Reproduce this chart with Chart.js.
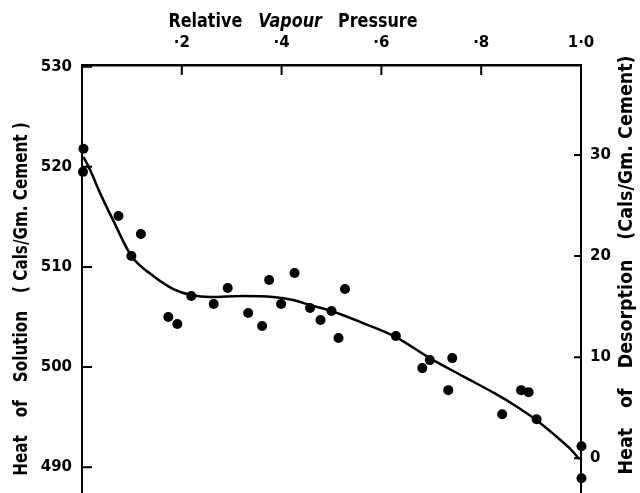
<!DOCTYPE html>
<html><head><meta charset="utf-8">
<script src="https://cdn.jsdelivr.net/npm/chart.js@4/dist/chart.umd.min.js"></script>
<style>html,body{margin:0;padding:0;background:#fff}</style>
</head><body>
<canvas id="c" width="640" height="493"></canvas>
<script>
// Measured points (relative vapour pressure, heat of solution)
const pointX = [0.003,0.002,0.073,0.099,0.118,0.173,0.191,0.219,0.264,0.292,0.333,0.361,0.375,0.399,0.426,0.457,0.478,0.500,0.514,0.527,0.629,0.682,0.697,0.734,0.742,0.842,0.880,0.895,0.911,1.001,1.001];
const pointY = [521.8,519.5,515.1,511.1,513.3,505.0,504.3,507.1,506.3,507.9,505.4,504.1,508.7,506.3,509.4,505.9,504.7,505.6,502.9,507.8,503.1,499.9,500.7,497.7,500.9,495.3,497.7,497.5,494.8,492.1,488.9];
// Smooth fitted curve
const curveX = [0.003,0.017,0.037,0.063,0.099,0.143,0.183,0.219,0.257,0.323,0.383,0.423,0.457,0.500,0.563,0.629,0.697,0.763,0.830,0.870,0.911,0.950,0.977,0.997];
const curveY = [521.0,519.6,517.3,514.6,511.1,509.1,507.8,507.2,507.0,507.1,507.0,506.7,506.2,505.6,504.4,503.0,500.9,499.1,497.3,496.1,494.7,493.1,491.9,490.8];
// Ticks
const xTicks = [0.2,0.4,0.6,0.8,1.0];
const xTickLabels = ['·2','·4','·6','·8','1·0'];
const leftTicks = [490,500,510,520,530];
const rightTicks = [0,10,20,30];
// Titles
const topTitle = [['Relative',false],['Vapour',true],['Pressure',false]];
const leftTitle = [['Heat',false],['of',false],['Solution',false],['( Cals/Gm. Cement )',false]];
const rightTitle = [['Heat',false],['of',false],['Desorption',false],['(Cals/Gm. Cement)',false]];

const FONT = '"DejaVu Sans", sans-serif';

function drawWords(ctx, words, size, gap, squeeze, cx, cy, angle){
  ctx.save();
  ctx.translate(cx, cy);
  ctx.rotate(angle);
  ctx.scale(squeeze, 1);
  ctx.textBaseline = 'middle';
  ctx.textAlign = 'left';
  const fonts = words.map(w => (w[1] ? 'italic ' : '') + 'bold ' + size + 'px ' + FONT);
  const widths = words.map((w,i) => { ctx.font = fonts[i]; return ctx.measureText(w[0]).width; });
  const g = gap / squeeze;
  const total = widths.reduce((a,b)=>a+b,0) + g*(words.length-1);
  let x = -total/2;
  words.forEach((w,i) => { ctx.font = fonts[i]; ctx.fillText(w[0], x, 0); x += widths[i] + g; });
  ctx.restore();
}

const decor = {
  id: 'decor',
  afterDraw(chart){
    const ctx = chart.ctx, a = chart.chartArea;
    const sx = chart.scales.x, sy = chart.scales.y, sy2 = chart.scales.y2;
    ctx.save();
    ctx.strokeStyle = '#000';
    ctx.lineWidth = 2;
    ctx.beginPath();
    sx.ticks.forEach(t => { const p = sx.getPixelForValue(t.value); ctx.moveTo(p, a.top); ctx.lineTo(p, a.top + 10); });
    sy.ticks.forEach(t => { const p = sy.getPixelForValue(t.value); ctx.moveTo(a.left, p); ctx.lineTo(a.left + 10, p); });
    sy2.ticks.forEach(t => { const p = sy2.getPixelForValue(t.value); ctx.moveTo(a.right, p); ctx.lineTo(a.right - 7, p); });
    ctx.stroke();
    ctx.fillStyle = '#000';
    drawWords(ctx, topTitle, 20, 16, 0.8, 293, 22, 0);
    drawWords(ctx, leftTitle, 19, 18, 0.8, 22, 299, -Math.PI/2);
    drawWords(ctx, rightTitle, 19, 20, 0.92, 627, 265, -Math.PI/2);
    ctx.restore();
  }
};

const tickFont = { family: FONT, size: 15, weight: 'bold' };
const noPad = s => { s.paddingTop = 0; s.paddingBottom = 0; s.paddingLeft = 0; s.paddingRight = 0; };

new Chart(document.getElementById('c'), {
  type: 'scatter',
  data: {
    datasets: [
      {
        data: curveX.map((x,i) => ({x, y: curveY[i]})),
        showLine: true, pointRadius: 0, borderColor: '#000', borderWidth: 2.5,
        cubicInterpolationMode: 'monotone', yAxisID: 'y'
      },
      {
        data: pointX.map((x,i) => ({x, y: pointY[i]})),
        pointRadius: 5, backgroundColor: '#000', borderWidth: 0, clip: false, yAxisID: 'y'
      }
    ]
  },
  options: {
    responsive: false, animation: false, devicePixelRatio: 1,
    layout: { padding: 0, autoPadding: false },
    plugins: { legend: { display: false }, tooltip: { enabled: false } },
    scales: {
      x: {
        type: 'linear', position: 'top', min: 0, max: 1,
        afterBuildTicks: s => { s.ticks = xTicks.map(v => ({value: v})); },
        afterFit: s => { s.height = 65; noPad(s); },
        grid: { display: false, drawTicks: false },
        border: { display: true, color: '#000', width: 2.5 },
        ticks: { color: '#000', font: tickFont, padding: 13, maxRotation: 0,
          callback: v => xTickLabels[xTicks.indexOf(v)] ?? '' }
      },
      y: {
        type: 'linear', position: 'left', min: 487.43, max: 530.17,
        afterBuildTicks: s => { s.ticks = leftTicks.map(v => ({value: v})); },
        afterFit: s => { s.width = 82; noPad(s); },
        grid: { display: false, drawTicks: false },
        border: { display: true, color: '#000', width: 2 },
        ticks: { color: '#000', font: tickFont, padding: 10, callback: v => String(v) }
      },
      y2: {
        type: 'linear', position: 'right', display: true, min: -3.43, max: 38.9,
        afterBuildTicks: s => { s.ticks = rightTicks.map(v => ({value: v})); },
        afterFit: s => { s.width = 59; noPad(s); },
        grid: { display: false, drawTicks: false },
        border: { display: true, color: '#000', width: 2 },
        ticks: { color: '#000', font: tickFont, padding: 9, callback: v => String(v) }
      }
    }
  },
  plugins: [decor]
});
</script>
</body></html>
